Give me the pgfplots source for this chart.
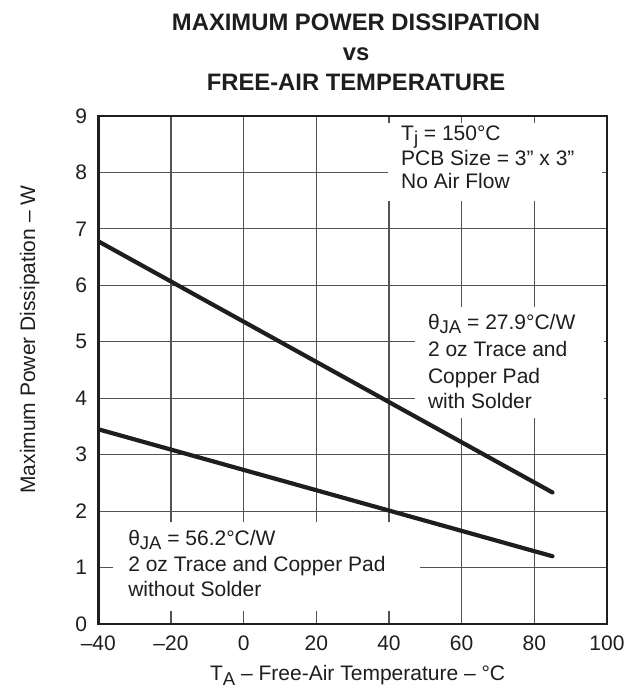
\documentclass[border=0pt]{standalone}
\usepackage{fontspec}
\setmainfont{Liberation Sans}
\usepackage{pgfplots}
\pgfplotsset{compat=1.18}
\newcommand{\sub}[1]{\raisebox{-4pt}{\fontsize{18.5}{18.5}\selectfont #1}}
\newcommand{\ann}{\fontsize{21}{25}\selectfont}
\definecolor{ink}{HTML}{1E1E1E}
\begin{document}
\begin{tikzpicture}[x=1pt,y=1pt]
\path[use as bounding box] (0,0) rectangle (629,688);
\begin{axis}[
  at={(98.3pt,64pt)}, anchor=south west,
  scale only axis, width=508.7pt, height=508pt,
  xmin=-40, xmax=100, ymin=0, ymax=9,
  xtick={-40,-20,0,20,40,60,80,100},
  xticklabels={–40,–20,0,20,40,60,80,100},
  ytick={0,1,2,3,4,5,6,7,8,9},
  yticklabels={0,1,2,3,4,5,6,7,8,9},
  major tick length=0pt,
  grid=major,
  major grid style={line width=1.2pt, color=black!68},
  axis line style={line width=2.8pt, color=ink},
  tick label style={font=\ann, color=ink},
  xticklabel style={yshift=-11pt, inner sep=1pt},
  yticklabel style={xshift=-10pt, inner sep=1pt},
  xlabel={T\sub{A} – Free-Air Temperature – °C},
  xlabel style={at={(axis description cs:0.5,0)}, anchor=base, yshift=-57pt, xshift=5pt, font=\ann, color=ink},
  ylabel={Maximum Power Dissipation – W},
  ylabel style={at={(axis description cs:-0.1244,0.56)}, anchor=base, font=\ann, color=ink},
]
% white label backgrounds hiding the grid
\fill[white] (axis cs:39.6,7.5) rectangle (axis cs:98.5,8.88);
\fill[white] (axis cs:47.2,3.65) rectangle (axis cs:99.3,5.62);
\fill[white] (axis cs:-36,0.23) rectangle (axis cs:48.4,1.81);

\addplot[ink, line width=4.2pt, line cap=round] coordinates {(-40,6.78) (85,2.33)};
\addplot[ink, line width=4.2pt, line cap=round] coordinates {(-40,3.45) (85,1.20)};

\node[anchor=base west, font=\ann, text=ink, inner sep=0pt] at (axis cs:43.3,8.563) {T\sub{j} = 150°C};
\node[anchor=base west, font=\ann, text=ink, inner sep=0pt] at (axis cs:43.3,8.13) {PCB Size = 3” x 3”};
\node[anchor=base west, font=\ann, text=ink, inner sep=0pt] at (axis cs:43.3,7.72) {No Air Flow};

\node[anchor=base west, font=\ann, text=ink, inner sep=0pt] at (axis cs:50.7,5.209) {θ\sub{JA} = 27.9°C/W};
\node[anchor=base west, font=\ann, text=ink, inner sep=0pt] at (axis cs:50.7,4.748) {2 oz Trace and};
\node[anchor=base west, font=\ann, text=ink, inner sep=0pt] at (axis cs:50.7,4.264) {Copper Pad};
\node[anchor=base west, font=\ann, text=ink, inner sep=0pt] at (axis cs:50.7,3.821) {with Solder};

\node[anchor=base west, font=\ann, text=ink, inner sep=0pt] at (axis cs:-31.8,1.382) {θ\sub{JA} = 56.2°C/W};
\node[anchor=base west, font=\ann, text=ink, inner sep=0pt] at (axis cs:-31.8,0.926) {2 oz Trace and Copper Pad};
\node[anchor=base west, font=\ann, text=ink, inner sep=0pt] at (axis cs:-31.8,0.483) {without Solder};
\end{axis}
\node[anchor=base, font=\fontsize{23.8}{28}\selectfont\bfseries, text=ink] at (356,657.3) {MAXIMUM POWER DISSIPATION};
\node[anchor=base, font=\fontsize{23.8}{28}\selectfont\bfseries, text=ink] at (356,627.3) {vs};
\node[anchor=base, font=\fontsize{23.8}{28}\selectfont\bfseries, text=ink] at (356,597.3) {FREE-AIR TEMPERATURE};
\end{tikzpicture}
\end{document}
